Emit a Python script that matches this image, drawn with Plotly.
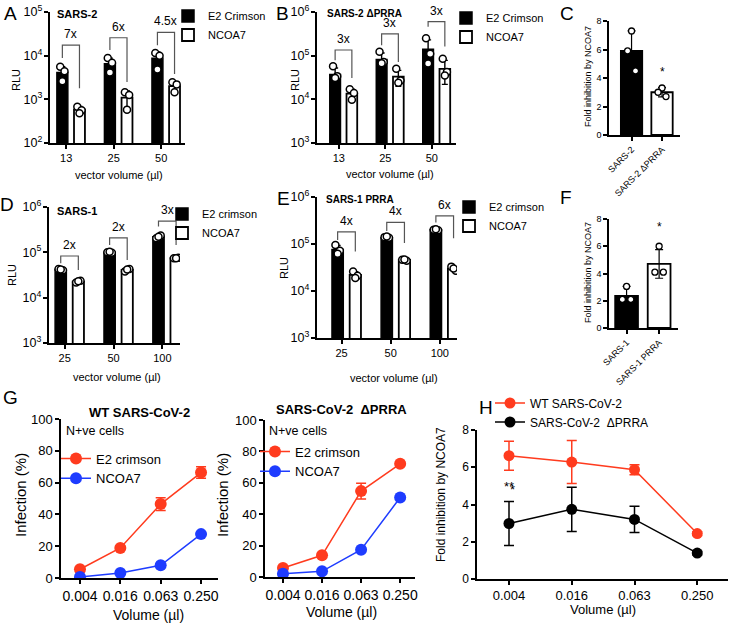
import numpy as np
import plotly.graph_objects as go

W, H = 730, 624
FONTE = 'Liberation Sans, Arial, sans-serif'
VERMELHO = '#FF3B1E'
AZUL = '#1E3CFF'

# ---------------- dados ----------------
# A - SARS-2
a_vol = ['13', '25', '50']
a_e2 = [4100, 6500, 8700]
a_e2_sd = [1500, 2300, 3400]
a_e2_pts = [[5600, 4400, 2600], [8800, 6900, 4100], [11500, 10000, 4800]]
a_nc = [580, 1100, 2000]
a_nc_sd = [110, 450, 500]
a_nc_pts = [[680, 560, 480], [1450, 1250, 580], [2450, 2200, 1450]]
a_fold = ['7x', '6x', '4.5x']
a_br_top = [17400, 25700, 34000]
a_br_esq = [8900, 13500, 17400]
a_br_dir = [1800, 2500, 3800]

# B - SARS-2 dPRRA
b_vol = ['13', '25', '50']
b_e2 = [37000, 82000, 140000]
b_e2_sd = [15000, 33000, 90000]
b_e2_pts = [[57000, 34000, 31000], [123000, 72000, 67000], [250000, 110000, 66000]]
b_nc = [13500, 33000, 50000]
b_nc_sd = [3500, 13000, 28000]
b_nc_pts = [[17000, 14000, 9800], [50000, 27000, 24000], [85000, 42000, 35000]]
b_fold = ['3x', '3x', '3x']
b_br_top = [135000, 316000, 603000]
b_br_esq = [79000, 174000, 457000]
b_br_dir = [31000, 72000, 162000]

# C - fold inhibition SARS-2
c_cat = ['SARS-2', 'SARS-2 ΔPRRA']
c_val = [5.9, 3.0]
c_sd = [1.4, 0.33]
c_pts = [[7.3, 5.9, 4.5], [3.3, 3.0, 2.7]]
c_estrela = 4.4

# D - SARS-1
d_vol = ['25', '50', '100']
d_e2 = [41700, 100000, 220000]
d_e2_sd = [1500, 2500, 18000]
d_e2_pts = [[43000, 40000, 42000], [100000, 98000, 103000], [205000, 235000, 220000]]
d_nc = [22700, 41000, 74700]
d_nc_sd = [1000, 2600, 1000]
d_nc_pts = [[21500, 23500, 23000], [38000, 43000, 42000], [74000, 76000, 74000]]
d_fold = ['2x', '2x', '3x']
d_br_top = [83000, 209000, 490000]
d_br_esq = [57500, 145000, 372000]
d_br_dir = [40700, 67600, 145000]

# E - SARS-1 PRRA
e_vol = ['25', '50', '100']
e_e2 = [76000, 135000, 200000]
e_e2_sd = [17000, 5000, 5000]
e_e2_pts = [[95000, 72000, 62000], [140000, 135000, 145000], [200000, 195000, 205000]]
e_nc = [22000, 45700, 30000]
e_nc_sd = [3600, 1500, 3000]
e_nc_pts = [[26000, 21000, 19000], [46000, 44000, 47000], [33000, 27000, 30000]]
e_fold = ['4x', '4x', '6x']
e_br_top = [182000, 288000, 398000]
e_br_esq = [122000, 190000, 288000]
e_br_dir = [69000, 105000, 132000]

# F - fold inhibition SARS-1
f_cat = ['SARS-1', 'SARS-1 PRRA']
f_val = [2.35, 4.7]
f_sd = [0.7, 1.05]
f_pts = [[3.05, 2.1, 2.1], [6.0, 4.1, 4.1]]
f_estrela = 7.4

# G - infecção
g_vol = ['0.004', '0.016', '0.063', '0.250']
g1_e2 = [5.5, 18.9, 46.5, 66.3]
g1_e2_sd = [0.8, 1.0, 4.0, 3.6]
g1_nc = [0.6, 3.2, 8.0, 27.6]
g1_nc_sd = [0.3, 0.5, 0.8, 1.0]
g2_e2 = [5.7, 13.8, 54.7, 72.1]
g2_e2_sd = [0.8, 1.0, 5.0, 1.0]
g2_nc = [2.1, 3.6, 17.4, 50.6]
g2_nc_sd = [0.5, 0.5, 1.0, 1.0]

# H - fold inhibition vírus
h_wt = [6.62, 6.28, 5.87, 2.44]
h_wt_sd = [0.78, 1.15, 0.27, 0.1]
h_prra = [2.98, 3.74, 3.2, 1.39]
h_prra_sd = [1.18, 1.19, 0.71, 0.1]
h_sig = ['**', '', '*', '']
h_sig_y = [4.96, 0, 4.82, 0]

# ---------------- estilo ----------------
LARG = 0.23
C_E2 = -0.08
C_NC = 0.28
JIT = [-0.045, 0.045, 0.0]


def px_x(x):
    return x / W


def px_y(y):
    return 1 - y / H


def eixo(n):
    return ('x' if n == 1 else f'x{n}', 'y' if n == 1 else f'y{n}')


fig = go.Figure()
anot = []


def texto(x, y, s, size, bold=False, angle=0, xanchor='center', yanchor='middle', color='black'):
    if bold:
        s = f'<b>{s}</b>'
    anot.append(dict(x=px_x(x), y=px_y(y), xref='paper', yref='paper', text=s, showarrow=False,
                     textangle=angle, xanchor=xanchor, yanchor=yanchor,
                     font=dict(size=size, color=color, family=FONTE)))


def pontos(xa, ya, xs, pts, centro):
    px, py = [], []
    for i, trio in zip(xs, pts):
        for j, v in enumerate(trio):
            px.append(i + centro + JIT[j])
            py.append(v)
    fig.add_trace(go.Scatter(x=px, y=py, mode='markers', showlegend=False, xaxis=xa, yaxis=ya,
                             marker=dict(size=7, color='white', line=dict(color='black', width=1.5))))


def barra_log(n, cats, e2, e2_sd, e2_pts, nc, nc_sd, nc_pts, fold, br_top, br_esq, br_dir, leg, nome_e2):
    xa, ya = eixo(n)
    xs = list(range(len(cats)))
    fig.add_trace(go.Bar(x=xs, y=e2, width=LARG, offset=C_E2 - LARG / 2, name=nome_e2, legend=leg,
                         marker=dict(color='black', line=dict(color='black', width=1.5)),
                         xaxis=xa, yaxis=ya))
    fig.add_trace(go.Bar(x=xs, y=nc, width=LARG, offset=C_NC - LARG / 2, name='NCOA7', legend=leg,
                         marker=dict(color='white', line=dict(color='black', width=1.8)),
                         xaxis=xa, yaxis=ya))
    for centro, vals, sd in [(C_E2, e2, e2_sd), (C_NC, nc, nc_sd)]:
        fig.add_trace(go.Scatter(x=[i + centro for i in xs], y=vals, mode='markers', showlegend=False,
                                 marker=dict(size=1, color='rgba(0,0,0,0)'),
                                 error_y=dict(type='data', array=sd, color='black', thickness=1.4, width=3),
                                 xaxis=xa, yaxis=ya))
    pontos(xa, ya, xs, e2_pts, C_E2)
    pontos(xa, ya, xs, nc_pts, C_NC)
    for i, t, l, r, f in zip(xs, br_top, br_esq, br_dir, fold):
        fig.add_trace(go.Scatter(x=[i + C_E2, i + C_E2, i + C_NC, i + C_NC], y=[l, t, t, r],
                                 mode='lines', line=dict(color='#555555', width=1.2),
                                 showlegend=False, hoverinfo='skip', xaxis=xa, yaxis=ya))
        anot.append(dict(x=i + (C_E2 + C_NC) / 2, y=np.log10(t), xref=xa, yref=ya, text=f,
                         showarrow=False, yanchor='bottom', yshift=2,
                         font=dict(size=12, color='black', family=FONTE)))
    return xs


def barra_fold(n, cats, vals, sd, pts, estrela):
    xa, ya = eixo(n)
    xs = list(range(len(cats)))
    fig.add_trace(go.Bar(x=xs, y=vals, width=0.7, showlegend=False,
                         marker=dict(color=['black', 'white'], line=dict(color='black', width=1.8)),
                         error_y=dict(type='data', array=sd, color='black', thickness=1.2, width=4),
                         xaxis=xa, yaxis=ya))
    px, py = [], []
    for i, trio in zip(xs, pts):
        for j, v in enumerate(trio):
            px.append(i + [0.0, -0.13, 0.13][j])
            py.append(v)
    fig.add_trace(go.Scatter(x=px, y=py, mode='markers', showlegend=False, xaxis=xa, yaxis=ya,
                             marker=dict(size=6, color='white', line=dict(color='black', width=1.3))))
    anot.append(dict(x=1, y=estrela, xref=xa, yref=ya, text='*', showarrow=False,
                     font=dict(size=12, color='black', family=FONTE)))


barra_log(1, a_vol, a_e2, a_e2_sd, a_e2_pts, a_nc, a_nc_sd, a_nc_pts, a_fold,
          a_br_top, a_br_esq, a_br_dir, 'legend', 'E2 Crimson')
barra_log(2, b_vol, b_e2, b_e2_sd, b_e2_pts, b_nc, b_nc_sd, b_nc_pts, b_fold,
          b_br_top, b_br_esq, b_br_dir, 'legend2', 'E2 Crimson')
barra_fold(3, c_cat, c_val, c_sd, c_pts, c_estrela)
barra_log(4, d_vol, d_e2, d_e2_sd, d_e2_pts, d_nc, d_nc_sd, d_nc_pts, d_fold,
          d_br_top, d_br_esq, d_br_dir, 'legend3', 'E2 crimson')
barra_log(5, e_vol, e_e2, e_e2_sd, e_e2_pts, e_nc, e_nc_sd, e_nc_pts, e_fold,
          e_br_top, e_br_esq, e_br_dir, 'legend4', 'E2 crimson')
barra_fold(6, f_cat, f_val, f_sd, f_pts, f_estrela)


def linha(n, y, sd, cor, nome, leg, tam):
    xa, ya = eixo(n)
    fig.add_trace(go.Scatter(x=g_vol, y=y, mode='lines+markers', name=nome, legend=leg,
                             line=dict(color=cor, width=1.5), marker=dict(size=tam, color=cor),
                             error_y=dict(type='data', array=sd, color=cor, thickness=1.5, width=5),
                             xaxis=xa, yaxis=ya))


linha(7, g1_e2, g1_e2_sd, VERMELHO, 'E2 crimson', 'legend5', 12)
linha(7, g1_nc, g1_nc_sd, AZUL, 'NCOA7', 'legend5', 12)
linha(8, g2_e2, g2_e2_sd, VERMELHO, 'E2 crimson', 'legend6', 12)
linha(8, g2_nc, g2_nc_sd, AZUL, 'NCOA7', 'legend6', 12)
linha(9, h_wt, h_wt_sd, VERMELHO, 'WT SARS-CoV-2', 'legend7', 11)
linha(9, h_prra, h_prra_sd, 'black', 'SARS-CoV-2  ΔPRRA', 'legend7', 11)
for v, s, yv in zip(g_vol, h_sig, h_sig_y):
    if s:
        anot.append(dict(x=v, y=yv, xref='x9', yref='y9', text=s, showarrow=False,
                         font=dict(size=13, color='black', family=FONTE)))

# ---------------- eixos ----------------
base = dict(showline=True, linecolor='black', linewidth=1.5, ticks='outside', ticklen=4,
            tickwidth=1.5, tickcolor='black', showgrid=False, zeroline=False, automargin=False,
            tickfont=dict(size=11, color='black', family=FONTE))

# (x0, x1, ytopo, ybase, xrange, categorias, yrange)
paineis_log = {
    1: (50, 185, 12, 143, [-0.34, 2.5], a_vol, [2, 5]),
    2: (317, 456, 12, 143, [-0.47, 2.52], b_vol, [3, 6]),
    4: (49, 180, 207, 343, [-0.32, 2.36], d_vol, [3, 6]),
    5: (317, 457, 197, 338, [-0.5, 2.35], e_vol, [3, 6]),
}
layout_eixos = {}
for n, (x0, x1, yt, yb, xr, cats, yr) in paineis_log.items():
    sx = '' if n == 1 else str(n)
    layout_eixos[f'xaxis{sx}'] = dict(base, domain=[px_x(x0), px_x(x1)], range=xr, anchor=f'y{sx}',
                                      tickvals=list(range(len(cats))), ticktext=cats)
    layout_eixos[f'yaxis{sx}'] = dict(base, domain=[px_y(yb), px_y(yt)], range=yr, type='log',
                                      dtick=1, exponentformat='power', anchor=f'x{sx}',
                                      tickfont=dict(size=10, color='black', family=FONTE))

paineis_fold = {
    3: (609, 680, 21, 135, [-0.74, 1.59], c_cat),
    6: (609, 678, 219, 328, [-0.54, 1.58], f_cat),
}
for n, (x0, x1, yt, yb, xr, cats) in paineis_fold.items():
    layout_eixos[f'xaxis{n}'] = dict(base, domain=[px_x(x0), px_x(x1)], range=xr, anchor=f'y{n}',
                                     tickvals=[0, 1], ticktext=cats, tickangle=-45,
                                     tickfont=dict(size=9, color='black', family=FONTE))
    layout_eixos[f'yaxis{n}'] = dict(base, domain=[px_y(yb), px_y(yt)], range=[0, 8], dtick=2,
                                     anchor=f'x{n}', tickfont=dict(size=9, color='black', family=FONTE))

paineis_linha = {
    7: (61, 218, 419, 578, [-0.47, 3.42], [0, 100], 20, 13),
    8: (265, 415, 420, 577, [-0.46, 3.38], [0, 100], 20, 13),
    9: (477, 728, 430, 579, [-0.51, 3.49], [0, 8], 2, 12),
}
for n, (x0, x1, yt, yb, xr, yr, dt, fs) in paineis_linha.items():
    layout_eixos[f'xaxis{n}'] = dict(base, domain=[px_x(x0), px_x(x1)], range=xr, anchor=f'y{n}',
                                     type='category', tickfont=dict(size=fs + 1, color='black', family=FONTE))
    layout_eixos[f'yaxis{n}'] = dict(base, domain=[px_y(yb), px_y(yt)], range=yr, dtick=dt,
                                     anchor=f'x{n}', tickfont=dict(size=fs, color='black', family=FONTE))

# ---------------- textos ----------------
for letra, x, y in [('A', 10, 13), ('B', 282, 13), ('C', 567, 13), ('D', 7, 205), ('E', 283, 198),
                    ('F', 566, 197), ('G', 10, 397), ('H', 486, 407)]:
    texto(x, y, letra, 19, xanchor='center')

texto(55, 14, 'SARS-2', 11, bold=True, xanchor='left')
texto(325, 13, 'SARS-2 ΔPRRA', 10, bold=True, xanchor='left')
texto(55, 211, 'SARS-1', 11, bold=True, xanchor='left')
texto(324, 199, 'SARS-1 PRRA', 10, bold=True, xanchor='left')

for x, y in [(16, 80), (295, 80), (12, 275), (284, 268)]:
    texto(x, y, 'RLU', 11, angle=-90)
for x, y in [(119, 175), (390, 174), (117, 377), (394, 378)]:
    texto(x, y, 'vector volume (µl)', 11)
texto(588, 77, 'Fold inhibition by NCOA7', 9, angle=-90)
texto(588, 273, 'Fold inhibition by NCOA7', 9, angle=-90)

texto(139, 412, 'WT SARS-CoV-2', 13, bold=True)
texto(341, 409, 'SARS-CoV-2  ΔPRRA', 13, bold=True)
texto(64, 431, 'N+ve cells', 12.5, xanchor='left')
texto(267, 431, 'N+ve cells', 12.5, xanchor='left')
texto(20, 495, 'Infection (%)', 15, angle=-90)
texto(222, 495, 'Infection (%)', 15, angle=-90)
texto(441, 495, 'Fold inhibition by NCOA7', 12, angle=-90)
texto(148, 615, 'Volume (µl)', 14)
texto(341, 612, 'Volume (µl)', 14)
texto(603, 609, 'Volume (µl)', 13)


def leg(x, y, fs):
    return dict(x=px_x(x), y=px_y(y), xanchor='left', yanchor='top', bgcolor='rgba(0,0,0,0)',
                font=dict(size=fs, color='black', family=FONTE), tracegroupgap=0)


fig.update_layout(
    width=W, height=H,
    margin=dict(l=0, r=0, t=0, b=0, pad=0, autoexpand=False),
    paper_bgcolor='white', plot_bgcolor='white',
    barmode='overlay',
    font=dict(family=FONTE, color='black'),
    annotations=anot,
    legend=leg(168, 1.5, 11),
    legend2=leg(446, 3.5, 11),
    legend3=leg(162, 199.5, 11),
    legend4=leg(449, 192.5, 11),
    legend5=leg(56, 443.5, 13),
    legend6=leg(255, 436.5, 13),
    legend7=leg(490, 388.5, 12),
    **layout_eixos,
)

# tirar a margem padrão do <body> para a figura ficar no canto da janela
fig.write_html('out.html', config={'displayModeBar': False},
               post_script="document.body.style.margin='0px';")
